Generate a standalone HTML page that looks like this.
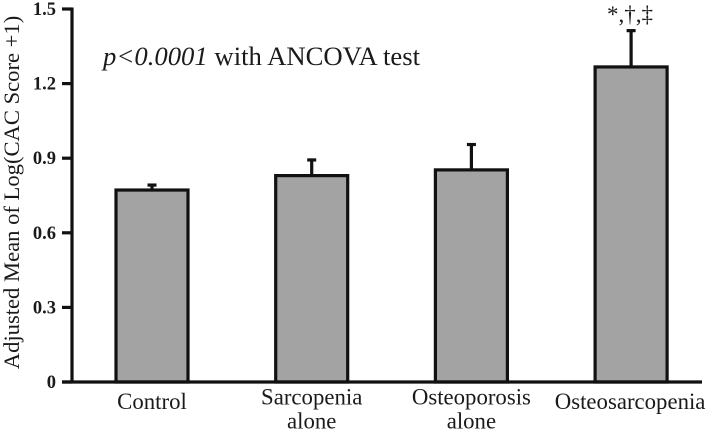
<!DOCTYPE html>
<html>
<head>
<meta charset="utf-8">
<style>
html,body{margin:0;padding:0;background:#fff;width:708px;height:431px;overflow:hidden}
svg{display:block;font-family:"Liberation Serif",serif;filter:blur(.35px)}
text{fill:#1a1a1a}
</style>
</head>
<body>
<svg id="chart" width="708" height="431" viewBox="0 0 708 431" xmlns="http://www.w3.org/2000/svg">
<g id="bars"></g>
<g id="axes"></g>
<g id="labels"></g>
<text transform="translate(19,192.5) rotate(-90)" text-anchor="middle" font-size="22.6">Adjusted Mean of Log(CAC Score +1)</text>
<text x="103" y="65" font-size="26.7"><tspan font-style="italic">p&lt;0.0001</tspan> with ANCOVA test</text>
<text x="630" y="22" text-anchor="middle" font-size="23">*,†,‡</text>
</svg>
<script>
const categories = [["Control"], ["Sarcopenia", "alone"], ["Osteoporosis", "alone"], ["Osteosarcopenia"]];
const means = [0.772, 0.83, 0.853, 1.267];
const errors = [0.02, 0.063, 0.102, 0.146];
const tickValues = [0, 0.3, 0.6, 0.9, 1.2, 1.5];
const tickLabels = ["0", "0.3", "0.6", "0.9", "1.2", "1.5"];

const NS = "http://www.w3.org/2000/svg";
const y = v => 382 - (v / 1.5) * 373;
const x = i => 152 + i * 159.7;
const barWidth = 72;
const barsG = document.getElementById("bars");
const axesG = document.getElementById("axes");
const labelsG = document.getElementById("labels");

function make(tag, parent, attrs) {
  const el = document.createElementNS(NS, tag);
  for (const k in attrs) el.setAttribute(k, attrs[k]);
  parent.appendChild(el);
  return el;
}

means.forEach((m, i) => {
  const cx = x(i);
  const top = y(m + errors[i]);
  const stem = make("line", barsG, {x1: cx, x2: cx, y1: y(m), y2: top, stroke: "#111", "stroke-width": 3.2});
  
  
  const cap = make("line", barsG, {x1: cx - 4.5, x2: cx + 4.5, y1: top, y2: top, stroke: "#111", "stroke-width": 3.2});
  
  
  const bar = make("rect", barsG, {x: cx - barWidth / 2, y: y(m), width: barWidth, height: y(0) - y(m), fill: "#a3a3a3", stroke: "#111", "stroke-width": 3.2});
  
  
});

const yAxis = make("line", axesG, {x1: 72, x2: 72, y1: y(1.5) - 1.5, y2: y(0) + 1.5, stroke: "#111", "stroke-width": 3.2});


const xAxis = make("line", axesG, {x1: 62, x2: 702, y1: y(0), y2: y(0), stroke: "#111", "stroke-width": 3.2});



tickValues.forEach((v, i) => {
  const tick = make("line", axesG, {x1: 62, x2: 72, y1: y(v), y2: y(v), stroke: "#111", "stroke-width": 3.2});
  
  
  const label = make("text", axesG, {x: 56, y: y(v) + 6, "text-anchor": "end", "font-size": 18.5, "font-weight": "bold"});
  
  
  label.textContent = tickLabels[i];
});

categories.forEach((lines, i) => {
  const isTwoLine = lines.length > 1;
  lines.forEach((line, j) => {
    const label = make("text", labelsG, {x: x(i) - (i === 3 ? 1 : 0), y: (isTwoLine ? 404.5 : 409) + j * 24, "text-anchor": "middle", "font-size": 22.8});
    
    
    label.textContent = line;
  });
});
</script>
</body>
</html>
